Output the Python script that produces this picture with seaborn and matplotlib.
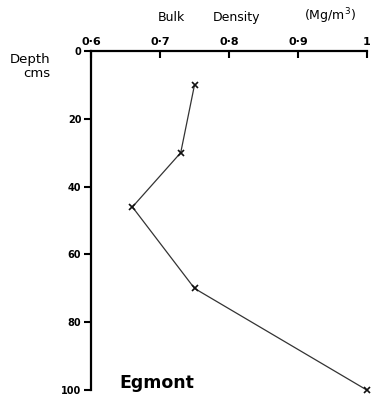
import pandas as pd
import matplotlib.pyplot as plt
import seaborn as sns

# bulk density profile
depth = [10, 30, 46, 70, 100]
density = [0.75, 0.73, 0.66, 0.75, 1.0]
x_ticks = [0.6, 0.7, 0.8, 0.9, 1.0]
x_labels = ["0·6", "0·7", "0·8", "0·9", "1"]
y_ticks = [0, 20, 40, 60, 80, 100]

df = pd.DataFrame({"depth": depth, "density": density})

sns.set_style("ticks")
plt.rcParams["font.family"] = ["DejaVu Sans"]
plt.rcParams["text.color"] = "black"
plt.rcParams["xtick.color"] = "black"
plt.rcParams["ytick.color"] = "black"
plt.rcParams["axes.edgecolor"] = "black"

fig = plt.figure(figsize=(3.73, 4.01), dpi=100)
ax = fig.add_axes([0.244, 0.027, 0.740, 0.846])

sns.lineplot(data=df, x="density", y="depth", ax=ax, sort=False,
             estimator=None, color="#333333", linewidth=0.9, marker="x",
             markersize=5, markeredgewidth=1.2, markeredgecolor="#111111",
             clip_on=False)

ax.set_xlim(0.6, 1.0)
ax.set_ylim(100, 0)
ax.xaxis.tick_top()
ax.set_xticks(x_ticks)
ax.set_xticklabels(x_labels, fontsize=8, fontweight="bold")
ax.set_yticks(y_ticks)
ax.set_yticklabels([str(v) for v in y_ticks], fontsize=7, fontweight="bold")
ax.tick_params(axis="x", direction="in", length=5, width=1.5, pad=3)
ax.tick_params(axis="y", direction="out", length=5, width=1.5, pad=2)
for side in ["bottom", "right"]:
    ax.spines[side].set_visible(False)
for side in ["top", "left"]:
    ax.spines[side].set_linewidth(1.6)
ax.set_xlabel("")
ax.set_ylabel("")

fig.text(0.422, 0.957, "Bulk", fontsize=9, ha="left", va="center")
fig.text(0.57, 0.957, "Density", fontsize=9, ha="left", va="center")
fig.text(0.815, 0.96, "(Mg/m$^3$)", fontsize=9, ha="left", va="center")
fig.text(0.134, 0.851, "Depth", fontsize=9.5, ha="right", va="center")
fig.text(0.134, 0.817, "cms", fontsize=9.5, ha="right", va="center")
fig.text(0.32, 0.045, "Egmont", fontsize=12.5, fontweight="bold",
         ha="left", va="center")

fig.savefig("out.png", dpi=100)
